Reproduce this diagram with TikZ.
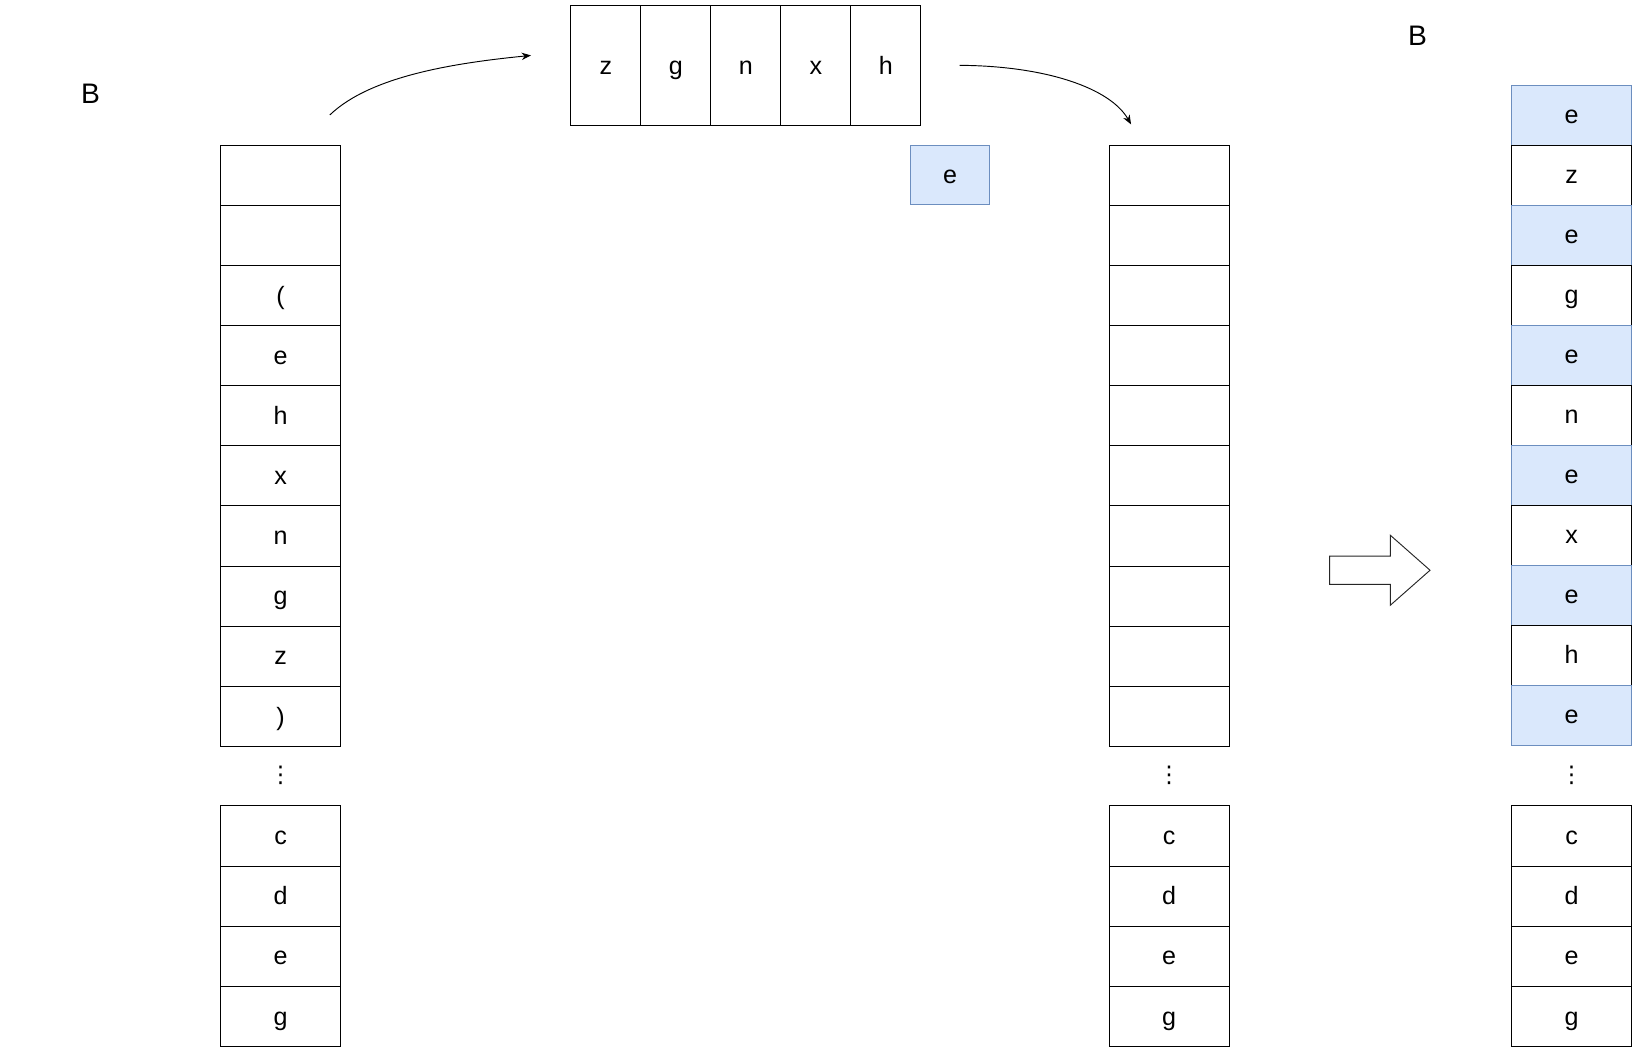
\documentclass[tikz,border=0pt]{standalone}
\usepackage{fontspec}
\setmainfont{Liberation Sans}
\newfontfamily\dejavu{DejaVu Sans}
\usetikzlibrary{arrows.meta}
\definecolor{bluefill}{HTML}{DAE8FC}
\definecolor{bluedraw}{HTML}{6C8EBF}
\begin{document}
\begin{tikzpicture}[x=1pt,y=-1pt,
  cell/.style={draw=black, line width=1pt, minimum width=115pt, minimum height=57.5pt,
    inner sep=0pt, outer sep=0pt, anchor=north west, font=\fontsize{24}{28}\selectfont,
    text height=21.7pt, text depth=5.1pt},
  bcell/.style={cell, fill=bluefill, draw=bluedraw},
  tcell/.style={cell, minimum width=67pt, minimum height=115pt},
  ecell/.style={cell, fill=bluefill, draw=bluedraw, minimum width=76pt, minimum height=57pt},
  dotsnode/.style={inner sep=0pt, font=\dejavu\fontsize{22}{26}\selectfont},
  lbl/.style={inner sep=0pt, font=\fontsize{27}{31}\selectfont},
  conn/.style={line width=0.9pt, -{Stealth[length=9pt,width=7pt]}},
  blockarrow/.style={draw=black!85, line width=0.9pt, fill=white}]
\useasboundingbox (0,0) rectangle (1566,1006.4);

% labels
\node[lbl] (Bl) at (86.5,90) {B};
\node[lbl] (Br) at (1356,34) {B};

% left column
\foreach \t [count=\i] in {{},{},{(},e,h,x,n,g,z,{)}}
  \node[cell] (L\i) at (211,{139+(\i-1)*57.5}) {\t};
\node[dotsnode] (Ld) at (268.5,742) {⋮};
\foreach \t [count=\i] in {c,d,e,g}
  \node[cell] (LB\i) at (211,{771+(\i-1)*57.5}) {\t};

% top row
\foreach \t [count=\i] in {z,g,n,x,h}
  \node[tcell] (T\i) at ({546+(\i-1)*67},5) {\t};

% single e
\node[ecell] (E) at (871,139) {e};

% middle column
\foreach \i in {1,...,10}
  \node[cell] (M\i) at (1061,{139+(\i-1)*57.5}) {};
\node[dotsnode] (Md) at (1118.5,742) {⋮};
\foreach \t [count=\i] in {c,d,e,g}
  \node[cell] (MB\i) at (1061,{771+(\i-1)*57.5}) {\t};

% right column
\foreach \t [count=\i] in {e,z,e,g,e,n,e,x,e,h,e}{
  \ifodd\i
    \node[bcell] (R\i) at (1446,{81.5+(\i-1)*57.4}) {\t};
  \else
    \node[cell] (R\i) at (1446,{81.5+(\i-1)*57.4}) {\t};
  \fi
}
\node[dotsnode] (Rd) at (1503.5,742) {⋮};
\foreach \t [count=\i] in {c,d,e,g}
  \node[cell] (RB\i) at (1446,{771+(\i-1)*57.5}) {\t};

% curved connectors
\coordinate (a1s) at (315.5,110);
\coordinate (a1e) at (508,53);
\draw[conn] (a1s) .. controls (355,72) and (438,60) .. (a1e);
\coordinate (a2s) at (918,62.5);
\coordinate (a2e) at (1082,119);
\draw[conn] (a2s) .. controls (1000,63) and (1062,84) .. (a2e);

% block arrow
\draw[blockarrow] (1272,532) -- (1330,532) -- (1330,512) -- (1368,545.5)
  -- (1330,579) -- (1330,559) -- (1272,559) -- cycle;
\end{tikzpicture}
\end{document}
